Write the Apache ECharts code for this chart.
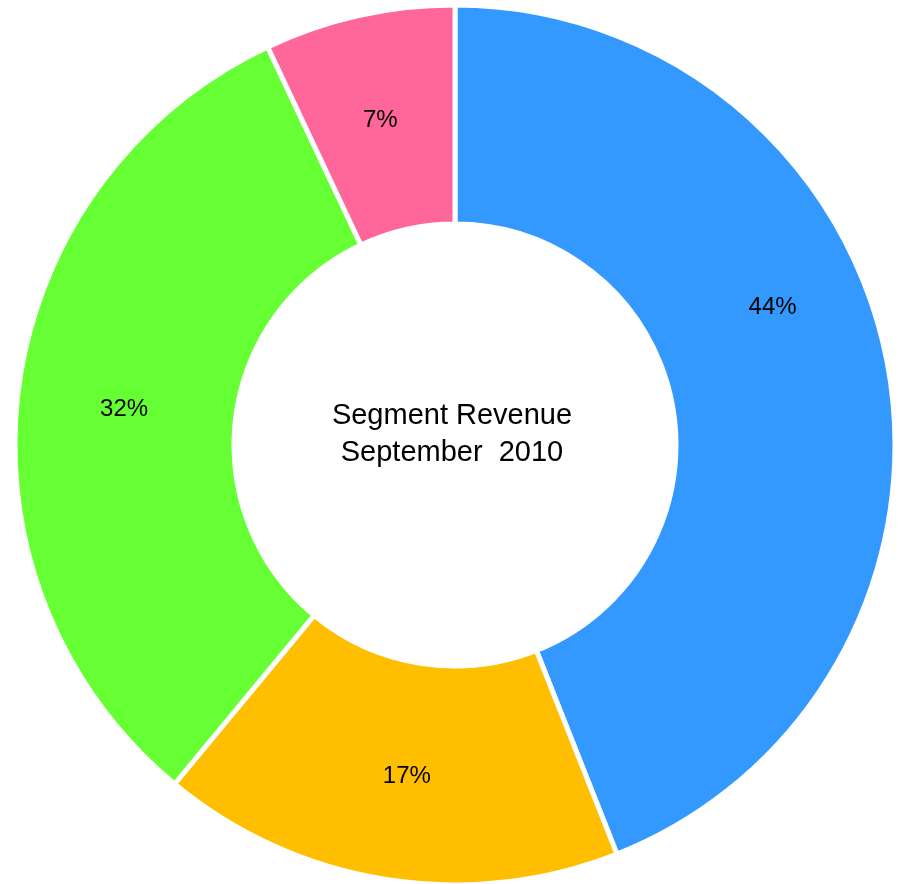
<!DOCTYPE html>
<html><head><meta charset="utf-8">
<script src="https://cdn.jsdelivr.net/npm/echarts@6/dist/echarts.min.js"></script>
<style>html,body{margin:0;padding:0;background:#fff}#c{width:904px;height:884px}</style>
</head><body><div id="c"></div>
<script>
var categories = ['Segment A', 'Segment B', 'Segment C', 'Segment D'];
var values = [44, 17, 32, 7];
var colors = ['#3399FF', '#FFBF00', '#66FF33', '#FF6699'];
var titleText = 'Segment Revenue\nSeptember  2010';

var chart = echarts.init(document.getElementById('c'), null, {renderer: 'canvas'});
chart.setOption({
  animation: false,
  backgroundColor: '#ffffff',
  title: {
    text: titleText,
    left: 'center',
    top: 392,
    textStyle: {fontFamily: 'Liberation Sans, Arial, sans-serif', fontSize: 29, fontWeight: 'normal', color: '#000', lineHeight: 37}
  },
  series: [{
    type: 'pie',
    center: [455, 445],
    radius: [221, 440],
    startAngle: 90,
    clockwise: true,
    data: categories.map(function (c, i) { return {name: c, value: values[i], itemStyle: {color: colors[i]}}; }),
    itemStyle: {borderColor: '#ffffff', borderWidth: 5},
    label: {
      show: true,
      position: 'inside',
      formatter: function (p) { return p.value + '%'; },
      color: '#000',
      fontSize: 24,
      fontFamily: 'Liberation Sans, Arial, sans-serif'
    },
    labelLayout: function (p) {
      var shift = [[-10, -75], [4, 2], [0, 6], [-2, 1]];
      var s = shift[p.dataIndex] || [0, 0];
      return {dx: s[0], dy: s[1]};
    },
    labelLine: {show: false},
    emphasis: {disabled: true}
  }]
});
</script></body></html>
